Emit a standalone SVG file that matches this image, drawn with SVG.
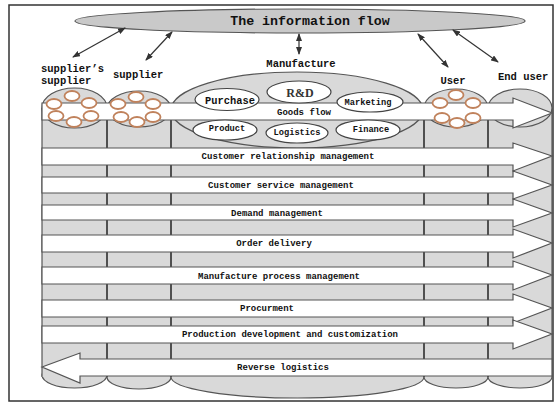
<svg xmlns="http://www.w3.org/2000/svg" width="555" height="403" viewBox="0 0 555 403">
<style>
.col{fill:#d9d9d9;stroke:#555;stroke-width:1.2}
.arr{fill:#fff;stroke:#555;stroke-width:1.2}
.t{font-family:"Liberation Mono",monospace;font-weight:bold;fill:#111}
.s9{font-size:9px}
.s10{font-size:10.5px}
.oval{fill:#fff;stroke:#444;stroke-width:1.2}
.ring{fill:#fff;stroke:#c0825c;stroke-width:1.8}
.div{stroke:#222;stroke-width:1.5}
.link{stroke:#333;stroke-width:1.2;fill:none;marker-start:url(#ah);marker-end:url(#ah)}
</style>
<defs>
<marker id="ah" markerWidth="8" markerHeight="6" refX="7" refY="3" orient="auto-start-reverse" markerUnits="userSpaceOnUse">
<path d="M0,0 L8,3 L0,6 z" fill="#333"/>
</marker>
</defs>
<rect x="0" y="0" width="555" height="403" fill="#fff"/>
<rect x="9" y="5" width="544" height="396" fill="none" stroke="#333" stroke-width="1.5"/>

<g id="info-flow">
<ellipse cx="300" cy="21" rx="225" ry="12" fill="#c9c9c9" stroke="#555" stroke-width="1.2"/>
<text class="t" x="310" y="25" font-size="13.3" text-anchor="middle">The information flow</text>
</g>

<g id="labels">
<text class="t s10" x="41" y="72">supplier’s</text>
<text class="t s10" x="41" y="84">supplier</text>
<text class="t s10" x="113" y="78">supplier</text>
<text class="t s10" x="301" y="67" text-anchor="middle">Manufacture</text>
<text class="t s10" x="453" y="84" text-anchor="middle">User</text>
<text class="t s10" x="498" y="80">End user</text>
</g>

<g id="bottoms">
<ellipse class="col" cx="74.5" cy="375" rx="32.5" ry="13"/>
<ellipse class="col" cx="139" cy="377" rx="32" ry="12"/>
<ellipse class="col" cx="297.5" cy="377" rx="126.5" ry="21"/>
<ellipse class="col" cx="456" cy="377" rx="32" ry="11"/>
<ellipse class="col" cx="520" cy="377" rx="32" ry="11"/>
</g>

<g id="body">
<rect x="42" y="108" width="510" height="269" fill="#d9d9d9"/>
<line x1="42" y1="108" x2="42" y2="377" stroke="#555" stroke-width="1.2"/>
<line x1="552" y1="108" x2="552" y2="377" stroke="#555" stroke-width="1.2"/>
</g>

<g id="supplier-supplier">
<ellipse class="col" cx="74.5" cy="108" rx="32.5" ry="20"/>
</g>
<g id="supplier">
<ellipse class="col" cx="139" cy="109" rx="32" ry="18"/>
</g>
<g id="manufacture">
<ellipse class="col" cx="297" cy="110" rx="126" ry="38"/>
</g>
<g id="user">
<ellipse class="col" cx="456" cy="108" rx="32" ry="19"/>
</g>
<g id="end-user">
<ellipse class="col" cx="520" cy="108" rx="32" ry="19"/>
</g>

<g id="dividers">
<line class="div" x1="107" y1="120" x2="107" y2="377"/>
<line class="div" x1="171" y1="120" x2="171" y2="377"/>
<line class="div" x1="424" y1="120" x2="424" y2="377"/>
<line class="div" x1="488" y1="120" x2="488" y2="377"/>
</g>

<g id="goods-flow">
<polygon class="arr" points="42,103 513,103 513,98 552,113 513,128 513,120 42,120"/>
<text class="t s9" x="304" y="115" text-anchor="middle">Goods flow</text>
</g>

<g id="rings">
<ellipse class="ring" cx="54" cy="104" rx="7.5" ry="5"/>
<ellipse class="ring" cx="72" cy="96" rx="7.5" ry="5"/>
<ellipse class="ring" cx="89" cy="103" rx="7.5" ry="5"/>
<ellipse class="ring" cx="56" cy="116" rx="7.5" ry="5"/>
<ellipse class="ring" cx="74" cy="122" rx="7.5" ry="5"/>
<ellipse class="ring" cx="91" cy="116" rx="7.5" ry="5"/>
<ellipse class="ring" cx="118" cy="104" rx="7.5" ry="5"/>
<ellipse class="ring" cx="136" cy="97" rx="7.5" ry="5"/>
<ellipse class="ring" cx="153" cy="104" rx="7.5" ry="5"/>
<ellipse class="ring" cx="121" cy="117" rx="7.5" ry="5"/>
<ellipse class="ring" cx="137" cy="122" rx="7.5" ry="5"/>
<ellipse class="ring" cx="153" cy="117" rx="7.5" ry="5"/>
<ellipse class="ring" cx="440" cy="103" rx="7.5" ry="5"/>
<ellipse class="ring" cx="456" cy="95" rx="7.5" ry="5"/>
<ellipse class="ring" cx="473" cy="103" rx="7.5" ry="5"/>
<ellipse class="ring" cx="442" cy="118" rx="7.5" ry="5"/>
<ellipse class="ring" cx="457" cy="123" rx="7.5" ry="5"/>
<ellipse class="ring" cx="473" cy="118" rx="7.5" ry="5"/>
</g>

<g id="purchase">
<ellipse class="oval" cx="227" cy="99.5" rx="32" ry="11"/>
<text class="t" x="230" y="103.5" font-size="10.4" text-anchor="middle">Purchase</text>
</g>
<g id="rd">
<ellipse class="oval" cx="299" cy="92" rx="32" ry="11"/>
<text x="300" y="96.5" font-family="Liberation Serif,serif" font-weight="bold" font-size="12" fill="#333" text-anchor="middle">R&amp;D</text>
</g>
<g id="marketing">
<ellipse class="oval" cx="370" cy="102" rx="33" ry="10"/>
<text class="t" x="368" y="105" font-size="8.7" text-anchor="middle">Marketing</text>
</g>
<g id="product">
<ellipse class="oval" cx="225" cy="130" rx="32" ry="10"/>
<text class="t" x="227" y="130.5" font-size="8.7" text-anchor="middle">Product</text>
</g>
<g id="logistics">
<ellipse class="oval" cx="297" cy="133" rx="31" ry="10"/>
<text class="t" x="297" y="135" font-size="8.7" text-anchor="middle">Logistics</text>
</g>
<g id="finance">
<ellipse class="oval" cx="368" cy="130" rx="32" ry="10"/>
<text class="t" x="371" y="132" font-size="8.7" text-anchor="middle">Finance</text>
</g>

<g id="processes">
<g id="crm">
<polygon class="arr" points="42,148 513,148 513,143 552,156 513,171 513,165 42,165"/>
<text class="t s9" x="288" y="159" text-anchor="middle">Customer relationship management</text>
</g>
<g id="csm">
<polygon class="arr" points="42,177 513,177 513,171 552,185 513,199 513,193 42,193"/>
<text class="t s9" x="281" y="188" text-anchor="middle">Customer service management</text>
</g>
<g id="demand">
<polygon class="arr" points="42,205 513,205 513,199 552,213 513,227 513,220 42,220"/>
<text class="t s9" x="277" y="216" text-anchor="middle">Demand management</text>
</g>
<g id="order">
<polygon class="arr" points="42,235 513,235 513,229 552,243 513,258 513,252 42,252"/>
<text class="t s9" x="274" y="246" text-anchor="middle">Order delivery</text>
</g>
<g id="mpm">
<polygon class="arr" points="42,267 513,267 513,261 552,275 513,290 513,284 42,284"/>
<text class="t s9" x="279" y="279" text-anchor="middle">Manufacture process management</text>
</g>
<g id="procurement">
<polygon class="arr" points="42,300 513,300 513,294 552,308 513,323 513,317 42,317"/>
<text class="t s9" x="267" y="311" text-anchor="middle">Procurment</text>
</g>
<g id="pdc">
<polygon class="arr" points="42,326 513,326 513,320 552,334 513,349 513,343 42,343"/>
<text class="t s9" x="290" y="337" text-anchor="middle">Production development and customization</text>
</g>
<g id="reverse">
<polygon class="arr" points="552,359 80,359 80,353 42,367 80,383 80,376 552,376"/>
<text class="t s9" x="283" y="370" text-anchor="middle">Reverse logistics</text>
</g>
</g>

<g id="connectors">
<line class="link" x1="125" y1="28" x2="73" y2="57"/>
<line class="link" x1="172" y1="32" x2="146" y2="60"/>
<line class="link" x1="299" y1="34" x2="299" y2="54"/>
<line class="link" x1="418" y1="34" x2="448" y2="67"/>
<line class="link" x1="453" y1="30" x2="498" y2="62"/>
</g>
</svg>
